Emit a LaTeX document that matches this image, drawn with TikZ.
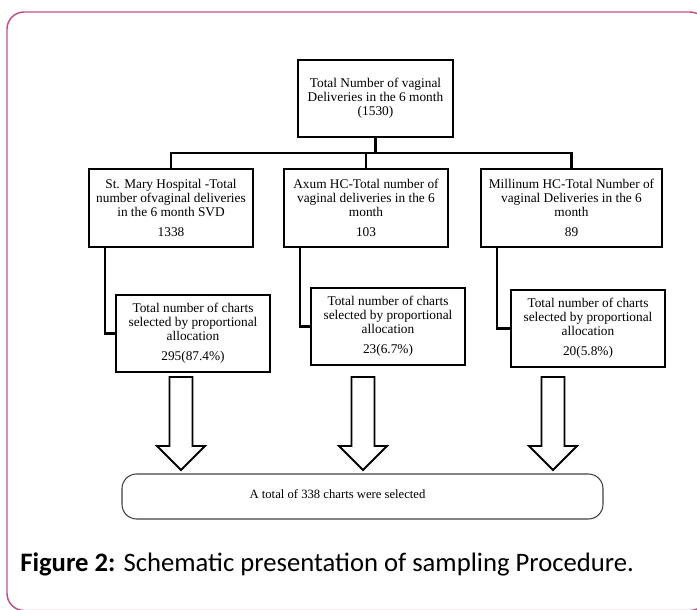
\documentclass[tikz,border=0pt]{standalone}
\usepackage{fontspec}
\setmainfont{Liberation Serif}
\newfontfamily\capfont{Carlito}
\definecolor{framepink}{RGB}{196,78,140}

\begin{document}
\begin{tikzpicture}[x=0.75pt,y=-0.75pt,
  box/.style={draw,line width=1.7pt,align=center,inner sep=0pt,font=\fontsize{10}{10.5}\selectfont},
  link/.style={line width=1.7pt},
  hollow/.style={draw,line width=1.4pt,fill=white,line join=miter}]

\useasboundingbox (0,0) rectangle (697,610);
\draw[framepink,line width=1.1pt,rounded corners=12.75pt] (7,12) rectangle (707,610.5);

\node[box,minimum width=116.25pt,minimum height=57.75pt] (top) at (375.5,98.5)
  {Total Number of vaginal\\Deliveries in the 6 month\\(1530)};

\node[box,minimum width=123pt,minimum height=58.5pt] (mary) at (171,208)
  {St. Mary Hospital -Total\\number ofvaginal deliveries\\in the 6 month SVD\\[4.5pt]1338};
\node[box,minimum width=123pt,minimum height=58.5pt] (axum) at (366,208)
  {Axum HC-Total number of\\vaginal deliveries in the 6\\month\\[4.5pt]103};
\node[box,minimum width=135.75pt,minimum height=58.5pt] (mill) at (571.5,208)
  {Millinum HC-Total Number of\\vaginal Deliveries in the 6\\month\\[4.5pt]89};

\node[box,minimum width=115.5pt,minimum height=57.75pt] (marysel) at (193,333.5)
  {Total number of charts\\selected by proportional\\allocation\\[4.5pt]295(87.4\%)};
\node[box,minimum width=115.5pt,minimum height=57.75pt] (axumsel) at (388,326.5)
  {Total number of charts\\selected by proportional\\allocation\\[4.5pt]23(6.7\%)};
\node[box,minimum width=115.5pt,minimum height=57.75pt] (millsel) at (588,328.5)
  {Total number of charts\\selected by proportional\\allocation\\[4.5pt]20(5.8\%)};

\coordinate (bar) at (0,153);
\draw[link] (top.south) -- (top.south |- bar);
\draw[link] (mary.north) -- (mary.north |- bar) -- (mill.north |- bar) -- (mill.north);
\draw[link] (axum.north) -- (axum.north |- bar);

\draw[link] ([xshift=12.75pt]mary.south west) |- (marysel.west);
\draw[link] ([xshift=12.75pt]axum.south west) |- (axumsel.west);
\draw[link] ([xshift=12.75pt]mill.south west) |- (millsel.west);

\foreach \ax in {181,363,553}
  \draw[hollow] (\ax-11.5,377) -- (\ax-11.5,446) -- (\ax-24,446) -- (\ax,470)
    -- (\ax+24,446) -- (\ax+11.5,446) -- (\ax+11.5,377) -- cycle;

\node[draw=black!75,line width=0.8pt,rounded corners=11pt,minimum width=360.75pt,
  minimum height=33.75pt,font=\fontsize{9.5}{11}\selectfont] (total) at (362.5,496.5)
  {\raisebox{3.4pt}{A total of 338 charts were selected}\hspace{37.5pt}\null};

\node[anchor=west,inner sep=0pt,font=\capfont\fontsize{20}{24}\selectfont] (caption) at (20,564)
  {\textbf{Figure 2:} Schematic presentation of sampling Procedure.};

\end{tikzpicture}
\end{document}
